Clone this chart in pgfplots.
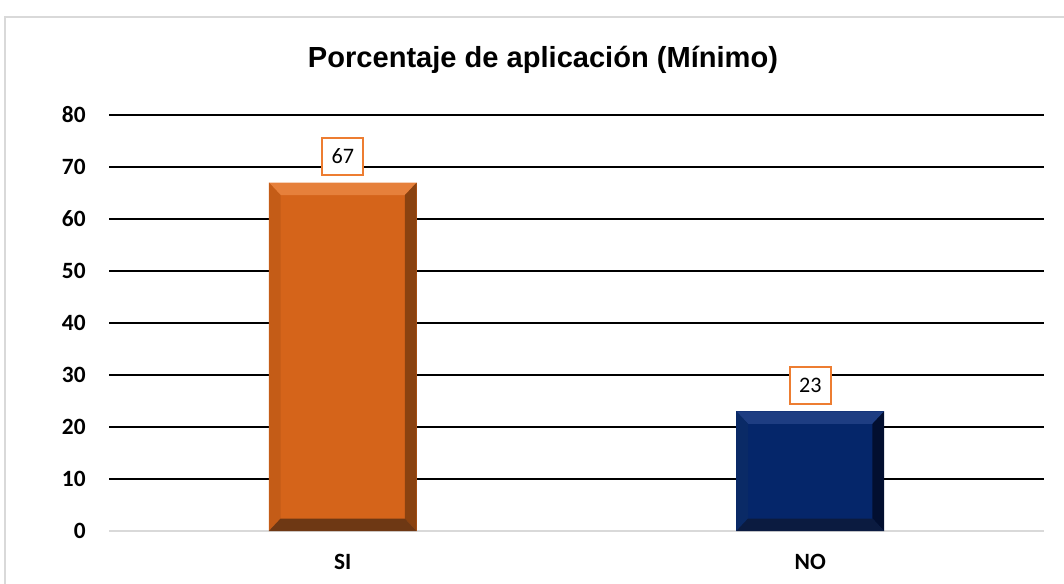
\documentclass[border=0pt]{standalone}
\usepackage{pgfplots}
\pgfplotsset{compat=1.18}
\usepackage{fontspec}
\setmainfont{Carlito}
\newfontfamily\titlefont{Liberation Sans}
\usetikzlibrary{calc}
\definecolor{orFill}{HTML}{D5641A}
\definecolor{orTop}{HTML}{E6803B}
\definecolor{orLeft}{HTML}{C45C17}
\definecolor{orRight}{HTML}{8A4210}
\definecolor{orBot}{HTML}{6E3814}
\definecolor{nvFill}{HTML}{05266A}
\definecolor{nvTop}{HTML}{1E3D82}
\definecolor{nvLeft}{HTML}{0A2A66}
\definecolor{nvRight}{HTML}{020F30}
\definecolor{nvBot}{HTML}{0B1B40}
\definecolor{lblBorder}{HTML}{ED7D31}
\definecolor{axGray}{HTML}{D9D9D9}
\begin{document}
\begin{tikzpicture}
\begin{axis}[
  name=ax,
  scale only axis,
  width=701.25pt, height=312pt,
  xmin=-0.5, xmax=1.5, ymin=0, ymax=80,
  ytick={10,20,...,80},
  extra y ticks={0}, extra y tick style={grid=none},
  xtick={0,1}, xticklabels={SI,NO},
  axis x line*=bottom, axis y line*=left,
  x axis line style={draw=axGray, line width=1.5pt, -},
  y axis line style={draw=none},
  major tick length=0pt,
  ymajorgrids, grid style={black, line width=0.9pt},
  yticklabel style={font=\bfseries\fontsize{17.5}{17.5}\selectfont, xshift=-14pt},
  xticklabel style={font=\bfseries\fontsize{17.5}{17.5}\selectfont, yshift=-14pt},
  /pgf/number format/assume math mode=true,
  every node near coord/.append style={font=\fontsize{16.6}{16.6}\selectfont, black, fill=white, draw=lblBorder, line width=1.5pt, inner sep=0pt, minimum width=31pt, minimum height=27.5pt, yshift=5pt, anchor=south},
  clip=false, no markers,
]
\addplot[ybar, bar width=0.316, bar shift=0pt, fill=orFill, draw=none, nodes near coords] coordinates {(0,67)};
\addplot[fill=orTop, draw=none] coordinates {(-0.158,67) (0.158,67) (0.133,64.6) (-0.133,64.6)} -- cycle;
\addplot[fill=orLeft, draw=none] coordinates {(-0.158,67) (-0.133,64.6) (-0.133,2.4) (-0.158,0)} -- cycle;
\addplot[fill=orRight, draw=none] coordinates {(0.158,67) (0.133,64.6) (0.133,2.4) (0.158,0)} -- cycle;
\addplot[fill=orBot, draw=none] coordinates {(-0.158,0) (-0.133,2.4) (0.133,2.4) (0.158,0)} -- cycle;
\addplot[ybar, bar width=0.316, bar shift=0pt, fill=nvFill, draw=none, nodes near coords] coordinates {(1,23)};
\addplot[fill=nvTop, draw=none] coordinates {(0.842,23) (1.158,23) (1.133,20.6) (0.867,20.6)} -- cycle;
\addplot[fill=nvLeft, draw=none] coordinates {(0.842,23) (0.867,20.6) (0.867,2.4) (0.842,0)} -- cycle;
\addplot[fill=nvRight, draw=none] coordinates {(1.158,23) (1.133,20.6) (1.133,2.4) (1.158,0)} -- cycle;
\addplot[fill=nvBot, draw=none] coordinates {(0.842,0) (0.867,2.4) (1.133,2.4) (1.158,0)} -- cycle;
\end{axis}
\node[font=\titlefont\bfseries\fontsize{21.8}{21.8}\selectfont] at ($(ax.south west)+(325.5pt,353.5pt)$) {Porcentaje de aplicación (Mínimo)};
\pgfresetboundingbox
\path[use as bounding box] ($(ax.south west)+(-81.75pt,-39pt)$) rectangle ++(798pt,437.25pt);
\draw[axGray, line width=1pt] ($(ax.south west)+(-78pt,-45pt)$) |- ($(ax.south west)+(720pt,385.5pt)$);
\end{tikzpicture}
\end{document}
